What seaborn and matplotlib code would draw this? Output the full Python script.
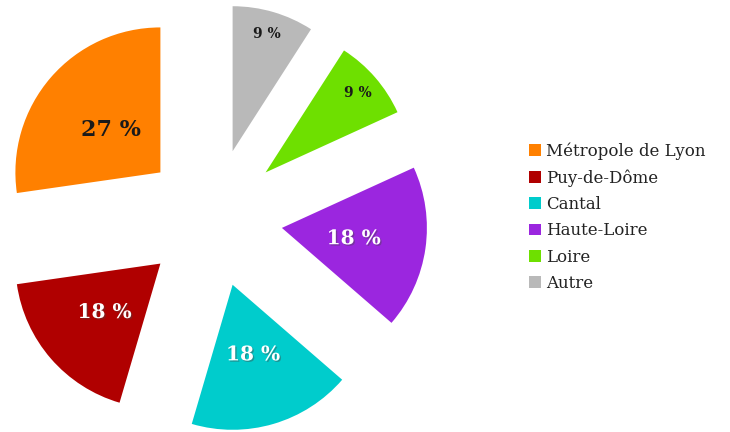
import numpy as np
import matplotlib
matplotlib.use("Agg")
import matplotlib.pyplot as plt
import matplotlib.patheffects as pe
import seaborn as sns

# data (shares out of 11, shown as rounded percentages)
labels = ["Métropole de Lyon", "Puy-de-Dôme", "Cantal", "Haute-Loire", "Loire", "Autre"]
values = [3, 2, 2, 2, 1, 1]
colors = ["#FF8000", "#B00000", "#00CCCC", "#9B26DF", "#6EE000", "#B9B9B9"]
pct_text = ["27 %", "18 %", "18 %", "18 %", "9 %", "9 %"]
text_colors = ["#1a1a1a", "white", "white", "white", "#1a1a1a", "#1a1a1a"]
text_sizes = [16, 14.5, 14.5, 14.5, 10, 10]
text_dist = [0.45, 0.51, 0.5, 0.5, 0.84, 0.84]

sns.set_theme(style="white")
plt.rcParams["font.family"] = ["DejaVu Serif"]

fig = plt.figure(figsize=(7.3, 4.32), dpi=100)
ax = fig.add_axes([0, 0, 1, 1])

r_px = 145.0
cx, cy = 213.0, 218.0

wedges, _ = ax.pie(values, colors=colors, startangle=90, counterclock=True,
                   explode=[0.48] * len(values), radius=1.0,
                   wedgeprops=dict(linewidth=0))

# percentage labels placed along each wedge's middle angle
for w, txt, tc, fs, dist in zip(wedges, pct_text, text_colors, text_sizes, text_dist):
    ang = np.deg2rad((w.theta1 + w.theta2) / 2)
    x = w.center[0] + dist * w.r * np.cos(ang)
    y = w.center[1] + dist * w.r * np.sin(ang)
    effects = []
    if tc == "white":
        effects = [pe.withSimplePatchShadow(offset=(1, -1), shadow_rgbFace="#444444", alpha=0.4)]
    ax.text(x, y, txt, ha="center", va="center", color=tc, fontsize=fs,
            fontweight="bold", path_effects=effects)

ax.set_aspect("auto")
ax.set_xlim(-cx / r_px, (730 - cx) / r_px)
ax.set_ylim(-(432 - cy) / r_px, cy / r_px)
ax.axis("off")

fig.legend(wedges, labels, loc="center left", bbox_to_anchor=(0.716, 0.497),
           frameon=False, fontsize=12, handlelength=0.7, handleheight=0.7,
           handletextpad=0.3, labelspacing=0.56, borderaxespad=0, labelcolor="#222222")

fig.savefig("out.png", dpi=100)
